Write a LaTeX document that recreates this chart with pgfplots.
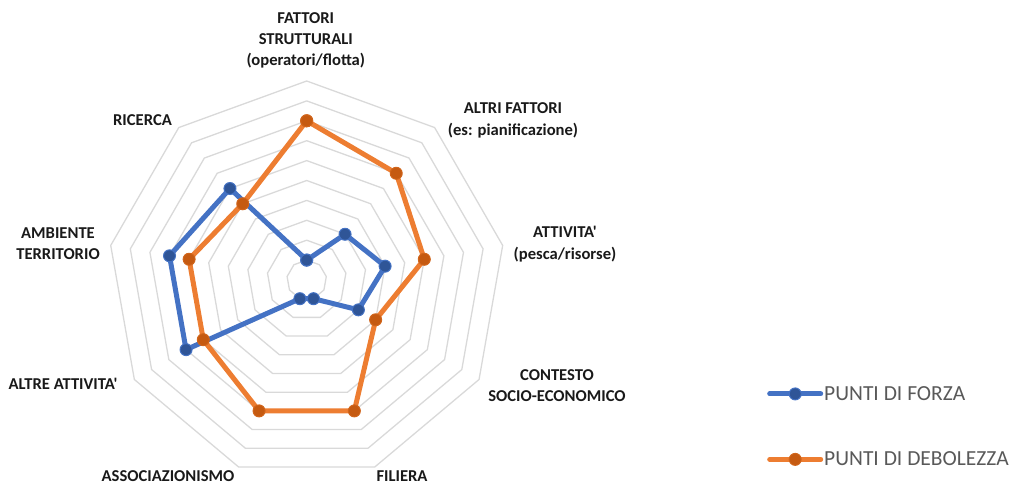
\documentclass[border=0pt]{standalone}
\usepackage{fontspec}
\setmainfont{Carlito}[Ligatures=TeXOff]
\usepackage{pgfplots}
\pgfplotsset{compat=1.18}
\usepackage{pgfplotstable}

\definecolor{blueL}{HTML}{4472C4}
\definecolor{blueM}{HTML}{2F5597}
\definecolor{orL}{HTML}{ED7D31}
\definecolor{orM}{HTML}{C55A11}
\definecolor{gridc}{HTML}{D9D9D9}
\definecolor{legt}{HTML}{595959}

% angle (deg) and values on a 0--10 scale; last row closes the polygon
\pgfplotstableread{
a forza debolezza
90 1 8
50 3 7
10 4 6
-30 3 4
-70 1 7
-110 1 7
-150 7 6
-190 7 6
-230 6 5
-270 1 8
}\radar

\begin{document}
\begin{tikzpicture}
\begin{axis}[
  x=1pt, y=1pt,
  xmin=0, xmax=1011, ymin=-487, ymax=0,
  hide axis, clip=false,
  legend style={draw=none, fill=none, at={(axis cs:764,-384)}, anchor=north west,
    font=\fontsize{21.5}{25}\selectfont, text=legt, row sep=50pt, column sep=1pt,
    nodes={inner sep=0pt}},
  legend cell align=left,
  legend image code/.code={\draw[mark repeat=2, mark phase=2, #1] plot coordinates {(0pt,0pt) (25.5pt,0pt) (51pt,0pt)};},
]
\coordinate (bl) at (axis cs:0,-487);
\coordinate (tr) at (axis cs:1011,0);

\pgfplotsinvokeforeach{1,...,10}{
  \addplot[gridc, line width=1.3pt, forget plot]
    table[x expr={306.7+19.9*#1*cos(\thisrow{a})}, y expr={-280+19.9*#1*sin(\thisrow{a})}] {\radar};
}

\addplot[blueL, line width=5pt, line join=round, line cap=round, mark=*, mark size=6pt,
  mark options={fill=blueM, draw=blueL, line width=1pt}]
  table[x expr={306.7+19.9*\thisrow{forza}*cos(\thisrow{a})}, y expr={-280+19.9*\thisrow{forza}*sin(\thisrow{a})}] {\radar};
\addlegendentry{PUNTI DI FORZA}

\addplot[orL, line width=5pt, line join=round, line cap=round, mark=*, mark size=6pt,
  mark options={fill=orM, draw=orM!70!orL, line width=1pt}]
  table[x expr={306.7+19.9*\thisrow{debolezza}*cos(\thisrow{a})}, y expr={-280+19.9*\thisrow{debolezza}*sin(\thisrow{a})}] {\radar};
\addlegendentry{PUNTI DI DEBOLEZZA}

\tikzset{lab/.style={font=\fontsize{16.6}{21.3}\selectfont\bfseries, align=center, text=black!90, inner sep=0pt}}
\node[lab] at (axis cs:305.8,-40.3) {FATTORI\\STRUTTURALI\\(operatori/flotta)};
\node[lab] at (axis cs:513,-120.5) {ALTRI FATTORI\\(es: pianificazione)};
\node[lab] at (axis cs:565,-244) {ATTIVITA'\\(pesca/risorse)};
\node[lab] at (axis cs:557,-385.5) {CONTESTO\\SOCIO-ECONOMICO};
\node[lab] at (axis cs:402,-476) {FILIERA};
\node[lab] at (axis cs:168,-476) {ASSOCIAZIONISMO};
\node[lab] at (axis cs:63,-384) {ALTRE ATTIVITA'};
\node[lab] at (axis cs:58,-244) {AMBIENTE\\TERRITORIO};
\node[lab] at (axis cs:142.5,-120) {RICERCA};
\end{axis}
\pgfresetboundingbox
\path (bl) rectangle (tr);
\end{tikzpicture}
\end{document}
